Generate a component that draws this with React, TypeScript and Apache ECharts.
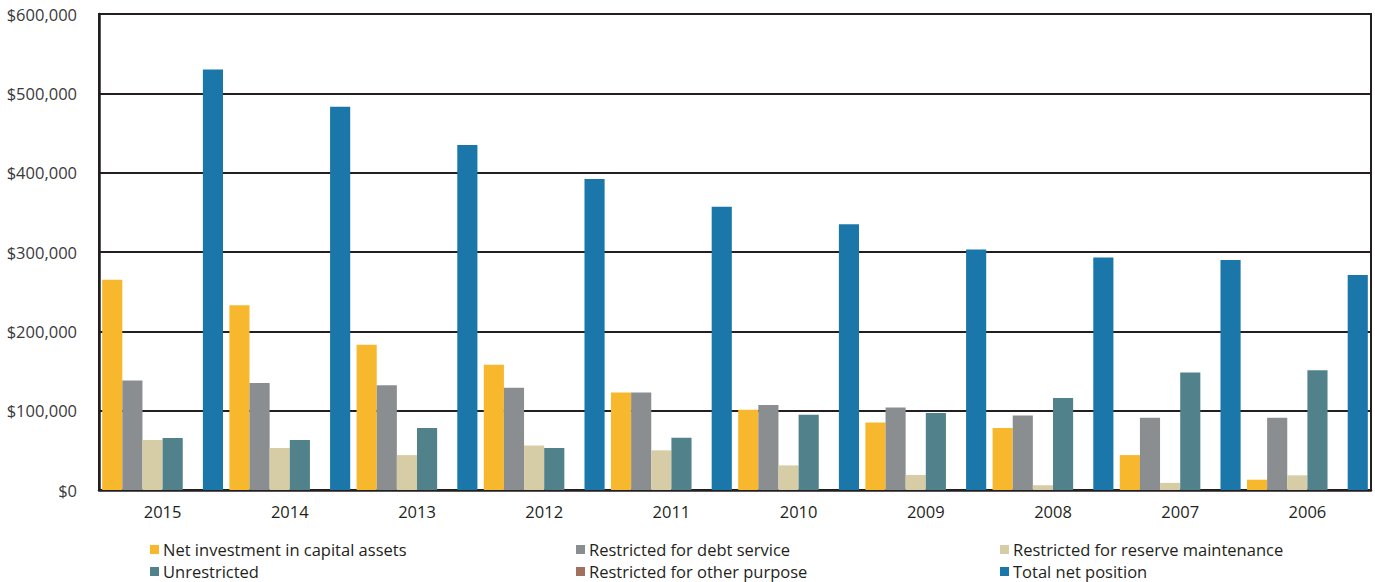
import React, { useEffect, useRef } from "react";
import * as echarts from "echarts";

const years = ["2015", "2014", "2013", "2012", "2011", "2010", "2009", "2008", "2007", "2006"];
const netInvestment = [265000, 233000, 183000, 158000, 123000, 101000, 85000, 78000, 44000, 13000];
const restrictedDebt = [138000, 135000, 132000, 129000, 123000, 107000, 104000, 94000, 91000, 91000];
const restrictedReserve = [63000, 53000, 44000, 56000, 50000, 31000, 19000, 6000, 9000, 18500];
const unrestricted = [65500, 63000, 78000, 53000, 66000, 95000, 97000, 116000, 148000, 151000];
const restrictedOther = [0, 0, 0, 0, 0, 0, 0, 0, 0, 0];
const totalNetPosition = [530000, 483000, 435000, 392000, 357000, 335000, 303000, 293000, 290000, 271000];
const yTicks = { min: 0, max: 600000, interval: 100000 };

const seriesDefs = [
  { name: "Net investment in capital assets", data: netInvestment, color: "#F8B82E" },
  { name: "Restricted for debt service", data: restrictedDebt, color: "#8B8E91" },
  { name: "Restricted for reserve maintenance", data: restrictedReserve, color: "#D6CDA7" },
  { name: "Unrestricted", data: unrestricted, color: "#51828B" },
  { name: "Restricted for other purpose", data: restrictedOther, color: "#A0715F" },
  { name: "Total net position", data: totalNetPosition, color: "#1B77AA" },
];

const legendPos = [
  { left: 150, top: 541 },
  { left: 576, top: 541 },
  { left: 1000, top: 541 },
  { left: 150, top: 563 },
  { left: 576, top: 563 },
  { left: 1000, top: 563 },
];

const FONT = "'Open Sans', Lato, sans-serif";
const FS = 16.5;

export default function App() {
  const ref = useRef<HTMLDivElement>(null);
  useEffect(() => {
    if (!ref.current) return;
    const chart = echarts.init(ref.current, undefined, { renderer: "svg" });
    chart.setOption({
      animation: false,
      backgroundColor: "#ffffff",
      textStyle: { fontFamily: FONT },
      grid: {
        left: 99,
        right: 4,
        top: 14,
        bottom: 92,
        show: true,
        borderColor: "#231F20",
        borderWidth: 2,
        backgroundColor: "transparent",
      },
      legend: seriesDefs.map((s, i) => ({
        data: [s.name],
        left: legendPos[i].left,
        top: legendPos[i].top,
        itemWidth: 9,
        itemHeight: 9,
        itemGap: 5,
        icon: "rect",
        padding: 0,
        selectedMode: false,
        textStyle: { fontFamily: FONT, fontSize: FS, color: "#231F20", padding: [0, 0, 0, -1] },
      })),
      xAxis: {
        type: "category",
        data: years,
        axisLine: { show: true, lineStyle: { color: "#231F20", width: 2.5 } },
        axisTick: { show: false },
        axisLabel: { fontFamily: FONT, fontSize: FS, color: "#231F20", margin: 13 },
        splitLine: { show: false },
      },
      yAxis: {
        type: "value",
        min: yTicks.min,
        max: yTicks.max,
        interval: yTicks.interval,
        axisLine: { show: true, lineStyle: { color: "#231F20", width: 2.5 } },
        axisTick: { show: false },
        axisLabel: {
          fontFamily: FONT,
          fontSize: FS,
          color: "#3a3a3a",
          margin: 22,
          formatter: (v: number) => "$" + v.toLocaleString("en-US"),
        },
        splitLine: { show: true, lineStyle: { color: "#231F20", width: 2 } },
      },
      series: seriesDefs.map((s) => ({
        name: s.name,
        type: "bar",
        data: s.data,
        barGap: "0%",
        barCategoryGap: "5%",
        itemStyle: { color: s.color },
      })),
    });
    return () => chart.dispose();
  }, []);
  return (
    <div
      ref={ref}
      style={{ position: "absolute", left: 0, top: 0, width: 1375, height: 582 }}
    />
  );
}
